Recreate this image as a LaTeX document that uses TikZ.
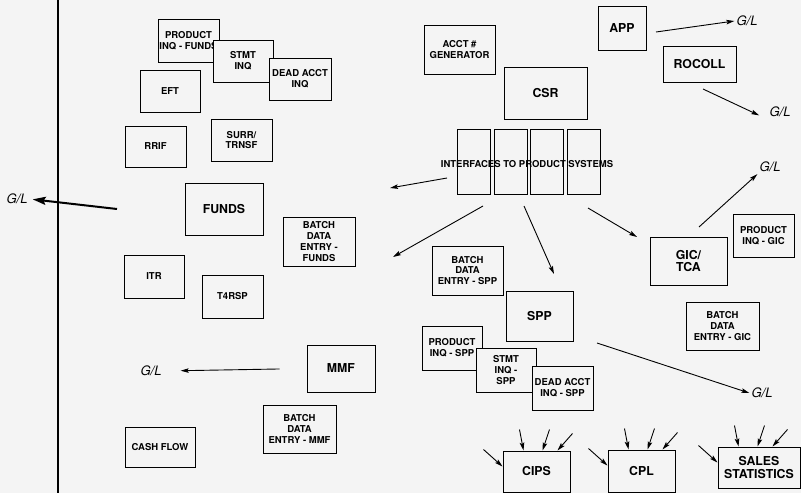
\documentclass[tikz,border=0pt]{standalone}
\usepackage{fontspec}
\setmainfont{TeX Gyre Heros}
\usetikzlibrary{arrows.meta,calc}
\definecolor{paper}{gray}{0.955}

\begin{document}
\begin{tikzpicture}[x=1pt,y=-1pt,
  box/.style={draw,line width=1pt,fill=paper,align=center,inner sep=0pt,font=\fontsize{9.5}{10.8}\selectfont\bfseries},
  bigbox/.style={box,font=\fontsize{12.3}{12.8}\selectfont\bfseries},
  wh/.style 2 args={minimum width=#1pt,minimum height=#2pt},
  gl/.style={font=\fontsize{13}{13}\selectfont\itshape,inner sep=2pt},
  flow/.style={line width=0.9pt,-{Stealth[length=8pt,width=4.5pt,inset=1.5pt]}}]
\fill[paper] (0,0) rectangle (801,493);
\useasboundingbox (0,0) rectangle (801,493);
\draw[line width=1.2pt] (58,0) -- (58,493);

\node[box,wh={61}{43}] (pifunds) at (188.5,40.5) {PRODUCT\\INQ - FUNDS};
\node[box,wh={60}{42}] (stmtinq) at (243,61) {STMT\\INQ};
\node[box,wh={62}{42}] (deadinq) at (300,79) {DEAD ACCT\\INQ};
\node[box,wh={60}{42}] (eft) at (170,91) {EFT};
\node[box,wh={61}{41}] (rrif) at (155.5,146.5) {RRIF};
\node[box,wh={61}{42}] (surr) at (241.5,140) {SURR/\\TRNSF};
\node[bigbox,wh={78}{52}] (funds) at (224,209) {FUNDS};
\node[box,wh={72}{49}] (bdefunds) at (319,241.5) {BATCH\\DATA\\ENTRY -\\FUNDS};
\node[box,wh={60}{43}] (itr) at (154,276.5) {ITR};
\node[box,wh={61}{43}] (t4rsp) at (232.5,296.5) {T4RSP};
\node[bigbox,wh={68}{47}] (mmf) at (341,368.5) {MMF};
\node[box,wh={73}{48}] (bdemmf) at (299.5,429) {BATCH\\DATA\\ENTRY - MMF};
\node[box,wh={70}{40}] (cashflow) at (160,447) {CASH FLOW};

\node[box,wh={71}{49}] (acctgen) at (459.5,49.5) {ACCT \#\\GENERATOR};
\node[bigbox,wh={48}{44}] (app) at (622,28) {APP};
\node[bigbox,wh={73}{36}] (rocoll) at (699.5,64) {ROCOLL};
\node[bigbox,wh={83}{52}] (csr) at (545.5,93) {CSR};
\foreach \x [count=\i] in {473.5,510.5,546.5,583.5} \node[box,wh={33}{65}] (if\i) at (\x,161.5) {};
\node[font=\fontsize{9.5}{10.8}\selectfont\bfseries,inner sep=0pt] (iftext) at (527,164) {INTERFACES TO PRODUCT SYSTEMS};
\node[box,wh={61}{43}] (pigic) at (763.5,235.5) {PRODUCT\\INQ - GIC};
\node[bigbox,wh={77}{48}] (gictca) at (688.5,261) {GIC/\\TCA};
\node[box,wh={71}{49}] (bdespp) at (467.5,270.5) {BATCH\\DATA\\ENTRY - SPP};
\node[bigbox,wh={67}{50}] (spp) at (539.5,316) {SPP};
\node[box,wh={60}{44}] (pispp) at (452,348) {PRODUCT\\INQ - SPP};
\node[box,wh={60}{44}] (stmtspp) at (506,370) {STMT\\INQ -\\SPP};
\node[box,wh={61}{44}] (deadspp) at (562.5,388) {DEAD ACCT\\INQ - SPP};
\node[box,wh={73}{48}] (bdegic) at (722.5,326) {BATCH\\DATA\\ENTRY - GIC};
\node[bigbox,wh={67}{41}] (cips) at (536.5,471.5) {CIPS};
\node[bigbox,wh={67}{42}] (cpl) at (641.5,471) {CPL};
\node[bigbox,wh={82}{41}] (sales) at (759,467.5) {SALES\\STATISTICS};

\node[gl] (glleft) at (17,199) {G/L};
\node[gl] (glmmf) at (151,371) {G/L};
\node[gl] (glapp) at (747,21) {G/L};
\node[gl] (glrocoll) at (780,112) {G/L};
\node[gl] (glgic) at (770,167) {G/L};
\node[gl] (glspp) at (762,393) {G/L};

\coordinate (fundsout) at (117,209); \coordinate (appout) at (656,32);
\coordinate (rocollout) at (703,89); \coordinate (gicout) at (699,227);
\coordinate (sppout) at (597,343);
\draw[line width=2pt,-{Stealth[length=13pt,width=8pt,inset=2pt]},shorten >=3pt] (fundsout) -- (glleft.east);
\draw[flow,shorten <=27pt,shorten >=17pt] (mmf.west) -- (glmmf.east);
\draw[flow] (appout) -- (glapp.west);
\draw[flow,shorten >=9pt] (rocollout) -- (glrocoll.south west);
\draw[flow] (gicout) -- (glgic.south west);
\draw[flow] (sppout) -- (glspp.west);

\coordinate (ift1) at (447,178); \coordinate (ifh1) at (390,188);
\coordinate (ift2) at (483,206); \coordinate (ifh2) at (393,257);
\coordinate (ift3) at (524,206); \coordinate (ifh3) at (554,274);
\coordinate (ift4) at (588,208); \coordinate (ifh4) at (637,237);
\foreach \i in {1,...,4} \draw[flow] (ift\i) -- (ifh\i);

\foreach \b in {cips,cpl,sales}
  \foreach \tx/\ty/\hx/\hy in {-19/-1/0/16,17/-21/21/0,47/-21/40/0,70/-17/55/0}
    \draw[flow] ($(\b.north west)+(\tx,\ty)$) -- ($(\b.north west)+(\hx,\hy)$);
\end{tikzpicture}
\end{document}
